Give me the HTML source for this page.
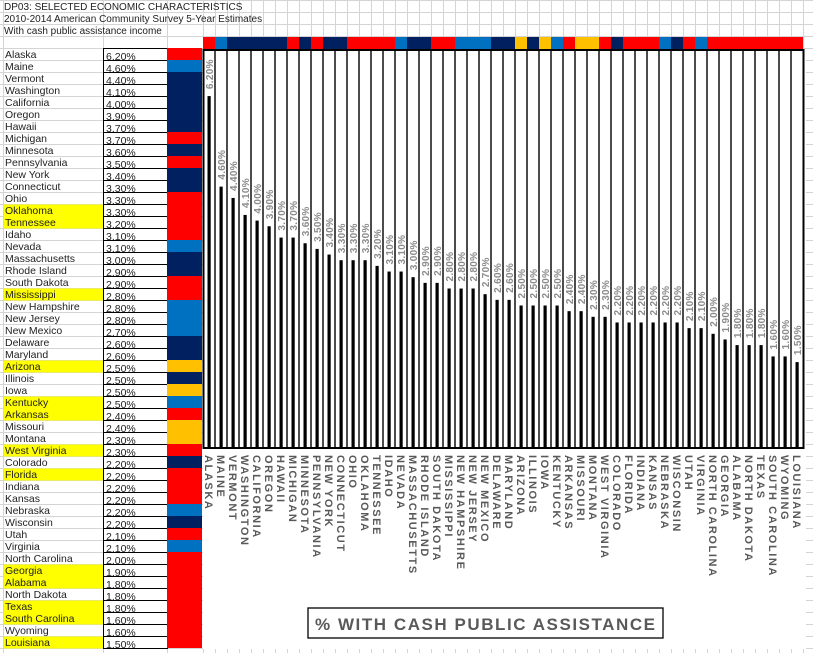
<!DOCTYPE html>
<html><head><meta charset="utf-8"><style>
html,body{margin:0;padding:0;background:#fff;}
svg{display:block;font-family:"Liberation Sans",sans-serif;}
</style></head><body>
<svg id="sheet" width="813" height="653" viewBox="0 0 813 653" xmlns="http://www.w3.org/2000/svg">
<rect x="0" y="0" width="813" height="653" fill="#fff"/>
<g id="grid"></g>
<g id="header">
<text x="4" y="10" font-size="10" fill="#222">DP03: SELECTED ECONOMIC CHARACTERISTICS</text>
<text x="4" y="22" font-size="10" fill="#222">2010-2014 American Community Survey 5-Year Estimates</text>
<text x="4" y="34" font-size="10" fill="#222">With cash public assistance income</text>
</g>
<g id="table"></g>
<rect x="203" y="49" width="603" height="600" fill="#fff"/>
<g id="strip"></g>
<g id="plot"></g>
<rect x="308" y="608" width="355" height="30" fill="#fff" stroke="#000" stroke-width="1.3"/>
<text x="315" y="630" font-size="17" font-weight="bold" fill="#595959" textLength="340" lengthAdjust="spacing">% WITH CASH PUBLIC ASSISTANCE</text>
</svg>
<script>
const states = ["Alaska","Maine","Vermont","Washington","California","Oregon","Hawaii","Michigan","Minnesota","Pennsylvania","New York","Connecticut","Ohio","Oklahoma","Tennessee","Idaho","Nevada","Massachusetts","Rhode Island","South Dakota","Mississippi","New Hampshire","New Jersey","New Mexico","Delaware","Maryland","Arizona","Illinois","Iowa","Kentucky","Arkansas","Missouri","Montana","West Virginia","Colorado","Florida","Indiana","Kansas","Nebraska","Wisconsin","Utah","Virginia","North Carolina","Georgia","Alabama","North Dakota","Texas","South Carolina","Wyoming","Louisiana"];
const values = [6.2,4.6,4.4,4.1,4.0,3.9,3.7,3.7,3.6,3.5,3.4,3.3,3.3,3.3,3.2,3.1,3.1,3.0,2.9,2.9,2.8,2.8,2.8,2.7,2.6,2.6,2.5,2.5,2.5,2.5,2.4,2.4,2.3,2.3,2.2,2.2,2.2,2.2,2.2,2.2,2.1,2.1,2.0,1.9,1.8,1.8,1.8,1.6,1.6,1.5];
const groups = ["R","L","N","N","N","N","N","R","N","R","N","N","R","R","R","R","L","N","N","R","R","L","L","L","N","N","G","N","G","L","R","G","G","R","N","R","R","R","L","N","R","L","R","R","R","R","R","R","R","R"];
const highlighted = ["Oklahoma","Tennessee","Mississippi","Arizona","Kentucky","Arkansas","West Virginia","Florida","Georgia","Alabama","Texas","South Carolina","Louisiana"];
const groupColors = {R:"#ff0000",L:"#0070c0",N:"#002060",G:"#ffc000"};

const NS="http://www.w3.org/2000/svg";
function mk(tag, parent, attrs){const e=document.createElementNS(NS,tag);for(const k in attrs)e.setAttribute(k,attrs[k]);parent.appendChild(e);return e;}

const colX0=203, colW=12, baseY=447, pxPerPct=56.6;
const xCol = i => colX0 + i*colW;
const xMid = i => colX0 + i*colW + colW/2;
const yVal = v => baseY - v*pxPerPct;
const rowY = i => 48 + i*12;

const grid=document.getElementById('grid');
for(let y=0.5;y<653;y+=12){const l=mk('line',grid,{x1:0,x2:813,y1:y,y2:y,stroke:"#d4d4d4","stroke-width":1});
}
[3.5,103.5,167.5].concat(Array.from({length:51},(_,k)=>colX0+k*colW+0.5)).forEach(x=>{
const l=mk('line',grid,{x1:x,x2:x,y1:0,y2:653,stroke:"#d4d4d4","stroke-width":1});
});

const table=document.getElementById('table');
states.forEach((s,i)=>{
  const y=rowY(i);
  if(highlighted.includes(s)){const h=mk('rect',table,{x:4,y:y+0.5,width:99,height:12,fill:"#ffff00"});
    }
  const t=mk('text',table,{x:5,y:y+10,"font-size":10.5,fill:"#222"});t.textContent=s;
  
  const c=mk('rect',table,{x:103.5,y:y+0.5,width:64,height:12,fill:"#fff",stroke:"#000","stroke-width":1});
  
  const p=mk('text',table,{x:106,y:y+12,"font-size":10.5,fill:"#222"});p.textContent=values[i].toFixed(2)+"%";
  
  const g=mk('rect',table,{x:167,y:y,width:35,height:12,fill:groupColors[groups[i]]});
  
});

const strip=document.getElementById('strip');
states.forEach((s,i)=>{const r=mk('rect',strip,{x:xCol(i),y:37,width:colW,height:12,fill:groupColors[groups[i]]});
});

const plot=document.getElementById('plot');
const frame=mk('rect',plot,{x:203.5,y:50,width:600,height:398,fill:"#fff",stroke:"#000","stroke-width":2});

for(let k=1;k<50;k++){const l=mk('line',plot,{x1:xCol(k),x2:xCol(k),y1:50,y2:448,stroke:"#000","stroke-width":1.4});
}
states.forEach((s,i)=>{
  const v=values[i], cx=xMid(i), top=yVal(v);
  const b=mk('rect',plot,{x:cx-1.5,y:top,width:3.2,height:baseY-top,fill:"#000"});
  
  const lt=mk('text',plot,{x:0,y:0,"font-size":10,"font-weight":"bold",fill:"#8c8c8c","letter-spacing":0.3,
    transform:`translate(${cx+3.8},${top-7}) rotate(-90)`});
  lt.textContent=v.toFixed(2)+"%";
  
  const ct=mk('text',plot,{x:0,y:0,"font-size":11,"font-weight":"bold",fill:"#595959","letter-spacing":1.6,
    transform:`translate(${cx-4},455) rotate(90)`});
  ct.textContent=s.toUpperCase();
  
});
</script>
</body></html>
